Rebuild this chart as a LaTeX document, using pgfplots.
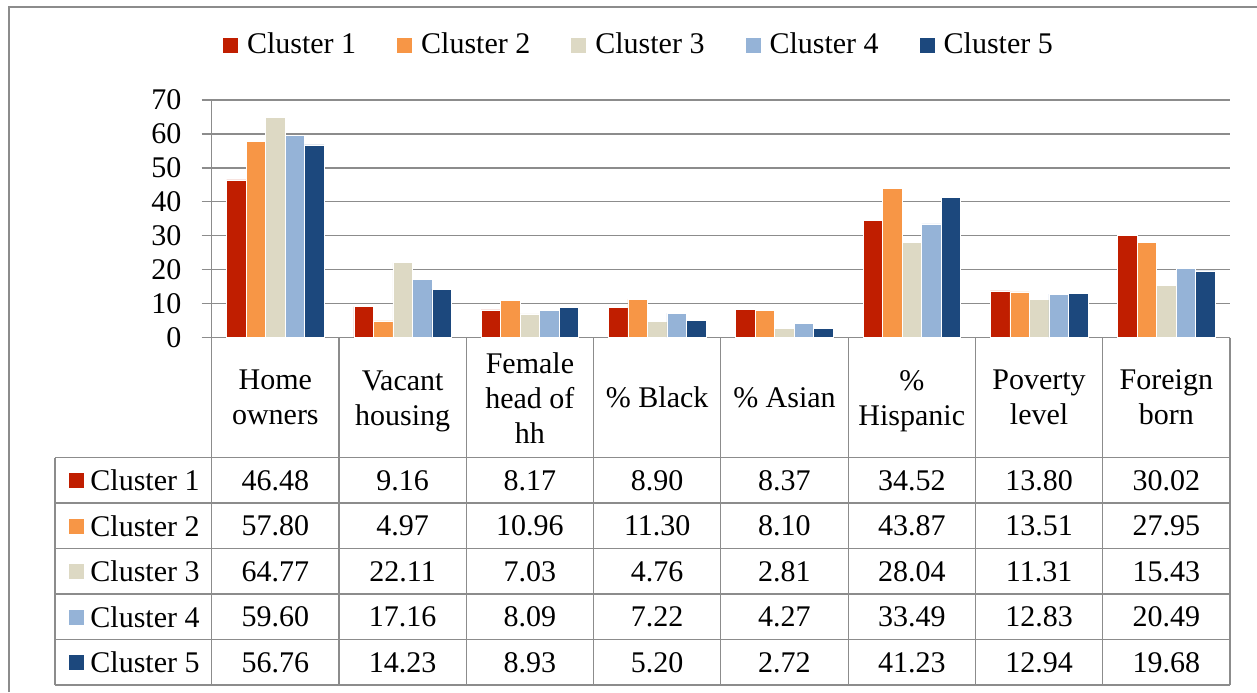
\documentclass[border=0pt]{standalone}
\usepackage{fontspec}
\setmainfont{Liberation Serif}
\usepackage{pgfplots}
\usepackage{pgfplotstable}
\pgfplotsset{compat=1.18}
\definecolor{c1}{RGB}{192,30,0}
\definecolor{c2}{RGB}{247,150,70}
\definecolor{c3}{RGB}{221,217,196}
\definecolor{c4}{RGB}{149,179,215}
\definecolor{c5}{RGB}{28,72,125}
\definecolor{gridc}{RGB}{140,140,140}
\newcommand{\fs}{\fontsize{15pt}{17.5pt}\selectfont}
\pgfplotstableread{
x c1 c2 c3 c4 c5
0 46.48 57.80 64.77 59.60 56.76
1 9.16 4.97 22.11 17.16 14.23
2 8.17 10.96 7.03 8.09 8.93
3 8.90 11.30 4.76 7.22 5.20
4 8.37 8.10 2.81 4.27 2.72
5 34.52 43.87 28.04 33.49 41.23
6 13.80 13.51 11.31 12.83 12.94
7 30.02 27.95 15.43 20.49 19.68
}\data
% table row: #1 = cluster number, #2..#9 = values
\newcommand{\trow}[9]{%
  \node[anchor=east, inner sep=0pt, xshift=-5.85pt] at (axis cs:-0.5,{-35.3-13.4*(#1-0.5)})
    {\textcolor{c#1}{\rule[1.2pt]{7.5pt}{7.5pt}}\hspace{3.3pt}Cluster #1};
  \node[inner sep=0pt] at (axis cs:0,{-35.3-13.4*(#1-0.5)}) {#2};
  \node[inner sep=0pt] at (axis cs:1,{-35.3-13.4*(#1-0.5)}) {#3};
  \node[inner sep=0pt] at (axis cs:2,{-35.3-13.4*(#1-0.5)}) {#4};
  \node[inner sep=0pt] at (axis cs:3,{-35.3-13.4*(#1-0.5)}) {#5};
  \node[inner sep=0pt] at (axis cs:4,{-35.3-13.4*(#1-0.5)}) {#6};
  \node[inner sep=0pt] at (axis cs:5,{-35.3-13.4*(#1-0.5)}) {#7};
  \node[inner sep=0pt] at (axis cs:6,{-35.3-13.4*(#1-0.5)}) {#8};
  \node[inner sep=0pt] at (axis cs:7,{-35.3-13.4*(#1-0.5)}) {#9};
}
\begin{document}
\begin{tikzpicture}[font=\fs]
\path[use as bounding box] (0,0) rectangle (628.5pt,346pt);
\draw[gridc, line width=1pt] (4.5pt,0) -- (4.5pt,342.5pt) -- (628.5pt,342.5pt);
\begin{axis}[
  at={(105.85pt,177.15pt)}, anchor=south west,
  scale only axis, width=509.15pt, height=118.85pt,
  xmin=-0.5, xmax=7.5, ymin=0, ymax=70,
  xtick=\empty, ytick={0,10,...,70},
  ybar=0pt, bar width=9.75pt,
  axis x line*=bottom, axis y line*=left,
  axis line style={gridc, line width=0.6pt},
  ymajorgrids, grid style={gridc, line width=0.6pt},
  tick align=outside, major tick length=5pt,
  ytick style={gridc, line width=0.6pt},
  tick label style={font=\fs, black},
  /pgf/number format/assume math mode=true,
  yticklabel style={anchor=east, inner sep=0pt, xshift=-10pt},
  clip=false,
  legend columns=5,
  legend style={at={(0.4186,1.2314)}, anchor=center, draw=none, fill=none,
    inner sep=0pt, font=\fs, nodes={inner sep=0pt},
    /tikz/every odd column/.append style={column sep=4.5pt},
    /tikz/every even column/.append style={column sep=20.5pt}},
  legend image code/.code={\fill[#1, draw=none] (0pt,-3.75pt) rectangle (7.5pt,3.75pt);},
]
\addplot[fill=c1, draw=white, line width=0.3pt] table[x=x, y=c1] {\data};
\addplot[fill=c2, draw=white, line width=0.3pt] table[x=x, y=c2] {\data};
\addplot[fill=c3, draw=white, line width=0.3pt] table[x=x, y=c3] {\data};
\addplot[fill=c4, draw=white, line width=0.3pt] table[x=x, y=c4] {\data};
\addplot[fill=c5, draw=white, line width=0.3pt] table[x=x, y=c5] {\data};
\legend{Cluster 1, Cluster 2, Cluster 3, Cluster 4, Cluster 5}
% table grid
\pgfplotsinvokeforeach{0,...,8}{
  \draw[gridc, line width=0.6pt] (axis cs:#1-0.5,0) -- (axis cs:#1-0.5,-102.3);
}
\draw[gridc, line width=0.6pt] (axis cs:-1.731,-35.3) -- (axis cs:-1.731,-102.3);
\pgfplotsinvokeforeach{0,...,5}{
  \draw[gridc, line width=0.6pt] (axis cs:-1.731,{-35.3-13.4*#1}) -- (axis cs:7.5,{-35.3-13.4*#1});
}
% header
\node[align=center, inner sep=0pt] at (axis cs:0,-17.65) {Home\\owners};
\node[align=center, inner sep=0pt, yshift=-1.7pt] at (axis cs:1,-17.65) {Vacant\\housing};
\node[align=center, inner sep=0pt] at (axis cs:2,-17.65) {Female\\head of\\hh};
\node[align=center, inner sep=0pt] at (axis cs:3,-17.65) {\% Black};
\node[align=center, inner sep=0pt] at (axis cs:4,-17.65) {\% Asian};
\node[align=center, inner sep=0pt, yshift=-1.7pt] at (axis cs:5,-17.65) {\%\\Hispanic};
\node[align=center, inner sep=0pt] at (axis cs:6,-17.65) {Poverty\\level};
\node[align=center, inner sep=0pt] at (axis cs:7,-17.65) {Foreign\\born};
% values
\trow{1}{46.48}{9.16}{8.17}{8.90}{8.37}{34.52}{13.80}{30.02}
\trow{2}{57.80}{4.97}{10.96}{11.30}{8.10}{43.87}{13.51}{27.95}
\trow{3}{64.77}{22.11}{7.03}{4.76}{2.81}{28.04}{11.31}{15.43}
\trow{4}{59.60}{17.16}{8.09}{7.22}{4.27}{33.49}{12.83}{20.49}
\trow{5}{56.76}{14.23}{8.93}{5.20}{2.72}{41.23}{12.94}{19.68}
\end{axis}
\end{tikzpicture}
\end{document}
